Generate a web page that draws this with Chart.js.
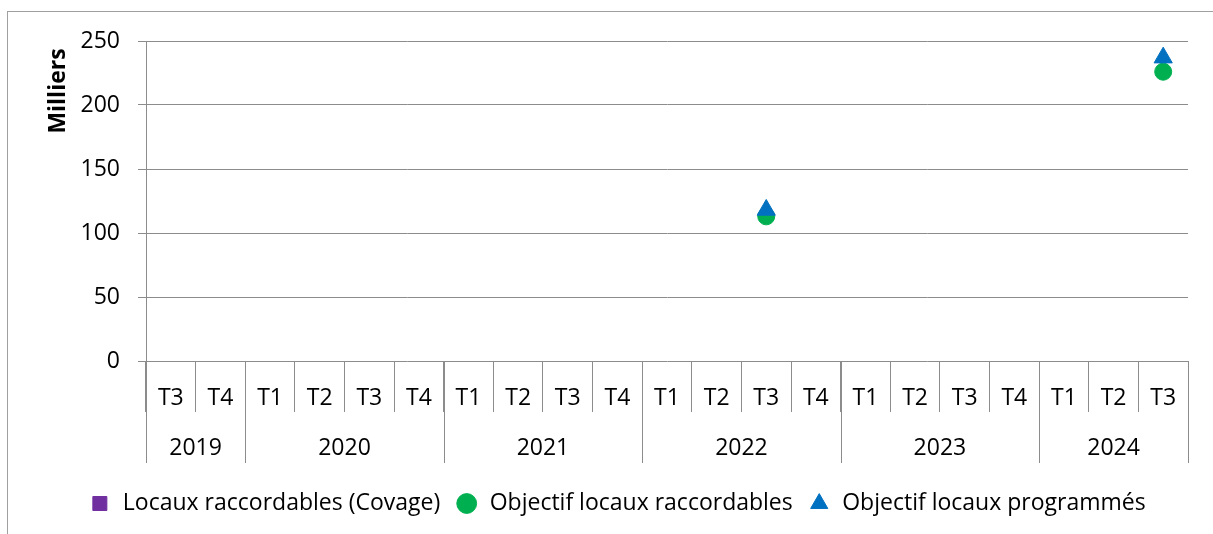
<!DOCTYPE html>
<html>
<head>
<meta charset="utf-8">
<script src="https://cdn.jsdelivr.net/npm/chart.js@4"></script>
<style>
  html, body { margin: 0; padding: 0; background: #fff; overflow: hidden; }
  #frame { position: absolute; left: 7px; top: 11px; width: 1400px; height: 700px;
           border-left: 1px solid #a0a0a0; border-top: 1px solid #a0a0a0; }
  #wrap { position: absolute; left: 0; top: 0; width: 1213px; height: 534px; }
</style>
</head>
<body>
<div id="frame"></div>
<div id="wrap"><canvas id="chart"></canvas></div>
<script>
// Quarters on the x axis, grouped by year
const quarters = ['T3', 'T4', 'T1', 'T2', 'T3', 'T4', 'T1', 'T2', 'T3', 'T4', 'T1',
                  'T2', 'T3', 'T4', 'T1', 'T2', 'T3', 'T4', 'T1', 'T2', 'T3'];
const years = ['2019', '2020', '2021', '2022', '2023', '2024'];
const quartersPerYear = [2, 4, 4, 4, 4, 3];

// Values in thousands
const locauxCovage = [null, null, null, null, null, null, null, null, null, null, null,
                      null, null, null, null, null, null, null, null, null, null];
const objectifRaccordables = [null, null, null, null, null, null, null, null, null, null, null,
                              null, 113, null, null, null, null, null, null, null, 226];
const objectifProgrammes = [null, null, null, null, null, null, null, null, null, null, null,
                            null, 118, null, null, null, null, null, null, null, 237];

const yTicks = [0, 50, 100, 150, 200, 250];
const yTitle = 'Milliers';

const FONT = '"Open Sans", sans-serif';
const SIZE = 23;
const GRID = '#8c8c8c';

// Draws the year row under the quarter labels, and the y title near the top
const extras = {
    id: 'extras',
    afterDraw(chart) {
        const ctx = chart.ctx;
        const x = chart.scales.x;
        const top = chart.chartArea.bottom;
        ctx.save();
        ctx.strokeStyle = GRID;
        ctx.lineWidth = 1;
        ctx.fillStyle = '#000';
        ctx.font = SIZE + 'px ' + FONT;
        ctx.textAlign = 'center';
        ctx.textBaseline = 'middle';
        let start = 0;
        const bounds = [0];
        quartersPerYear.forEach(n => { start += n; bounds.push(start); });
        bounds.forEach(b => {
            const px = Math.round(x.getPixelForValue(b - 0.5)) + 0.5;
            ctx.beginPath();
            ctx.moveTo(px, top);
            ctx.lineTo(px, top + 102);
            ctx.stroke();
        });
        years.forEach((y, i) => {
            const a = x.getPixelForValue(bounds[i] - 0.5);
            const b = x.getPixelForValue(bounds[i + 1] - 0.5);
            ctx.fillText(y, (a + b) / 2, top + 87);
        });

        ctx.font = 'bold ' + SIZE + 'px ' + FONT;
        ctx.translate(58, 91);
        ctx.rotate(-Math.PI / 2);
        ctx.fillText(yTitle, 0, 0);
        ctx.restore();
    }
};

new Chart(document.getElementById('chart'), {
    type: 'line',
    data: {
        labels: quarters,
        datasets: [
            {
                label: 'Locaux raccordables (Covage)',
                data: locauxCovage,
                showLine: false,
                pointStyle: 'rect',
                backgroundColor: '#7030a0',
                borderColor: '#7030a0',
                order: 3
            },
            {
                label: 'Objectif locaux raccordables',
                data: objectifRaccordables,
                showLine: false,
                pointStyle: 'circle',
                pointRadius: 8.5,
                borderWidth: 1,
                backgroundColor: '#00b050',
                borderColor: '#00b050',
                order: 2
            },
            {
                label: 'Objectif locaux programmés',
                data: objectifProgrammes,
                showLine: false,
                pointStyle: 'triangle',
                pointRadius: 10.5,
                borderWidth: 1,
                backgroundColor: '#0070c0',
                borderColor: '#0070c0',
                order: 1
            }
        ]
    },
    options: {
        responsive: true,
        maintainAspectRatio: false,
        animation: false,
        events: [],
        layout: { padding: { top: 41, right: 25, bottom: 9, left: 46 } },
        scales: {
            x: {
                offset: true,
                grid: {
                    offset: true,
                    drawOnChartArea: false,
                    tickLength: 51,
                    color: GRID
                },
                border: { display: false },
                ticks: {
                    padding: -27,
                    maxRotation: 0,
                    autoSkip: false,
                    color: '#000',
                    font: { family: FONT, size: SIZE }
                },
                afterFit(scale) { scale.height = 116; }
            },
            y: {
                min: 0,
                max: 250,
                afterBuildTicks(scale) { scale.ticks = yTicks.map(v => ({ value: v })); },
                grid: { color: GRID, tickLength: 8 },
                border: { color: GRID },
                ticks: {
                    padding: 18,
                    color: '#000',
                    font: { family: FONT, size: SIZE }
                },
                afterFit(scale) { scale.width = 100; }
            }
        },
        plugins: {
            legend: {
                position: 'bottom',
                labels: {
                    usePointStyle: true,
                    boxHeight: 14,
                    padding: 15,
                    color: '#000',
                    font: { family: FONT, size: SIZE },
                    sort: (a, b) => a.datasetIndex - b.datasetIndex
                }
            },
            tooltip: { enabled: false }
        }
    },
    plugins: [extras]
});
</script>
</body>
</html>
